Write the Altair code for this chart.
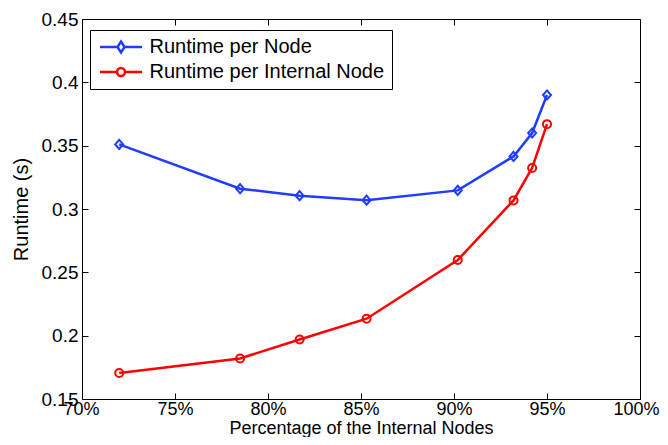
import altair as alt
import pandas as pd

# ---- data ----
pct_internal = [72.0, 78.5, 81.7, 85.3, 90.2, 93.2, 94.2, 95.0]
runtime_node = [0.351, 0.316, 0.3105, 0.307, 0.3147, 0.3415, 0.360, 0.390]
runtime_internal = [0.1705, 0.182, 0.197, 0.2134, 0.2597, 0.3068, 0.3324, 0.367]
series_names = ["Runtime per Node", "Runtime per Internal Node"]
x_ticks = [70, 75, 80, 85, 90, 95, 100]
y_ticks = [0.15, 0.2, 0.25, 0.3, 0.35, 0.4, 0.45]

rows = []
for x, a, b in zip(pct_internal, runtime_node, runtime_internal):
    rows.append({"x": x, "y": a, "series": series_names[0]})
    rows.append({"x": x, "y": b, "series": series_names[1]})
df = pd.DataFrame(rows)

BLUE = "#1f3cff"
RED = "#ff0000"
FONT = "Liberation Sans"
W, H = 558, 380

# legend symbols: line with hollow marker
PATH_A = "M-1,0L-0.167,0M0.167,0L1,0M0,-0.262L0.167,0L0,0.262L-0.167,0Z"
PATH_B = ("M-1,0L-0.19,0M0.19,0L1,0M-0.19,0A0.19,0.19,0,1,0,0.19,0"
          "A0.19,0.19,0,1,0,-0.19,0Z")
DIAMOND = "M0,-1.15L1,0L0,1.15L-1,0Z"

xscale = alt.Scale(domain=[70, 100], nice=False, zero=False)
yscale = alt.Scale(domain=[0.15, 0.45], nice=False, zero=False)

base = alt.Chart(df)

tick_common = dict(labels=False, domain=False, grid=False, title=None,
                   tickSize=6, tickColor="#000000", tickWidth=1)

# layer 1: lines, label axes, legend
lines = base.mark_line(strokeWidth=2.5).encode(
    x=alt.X("x:Q", scale=xscale,
            axis=alt.Axis(orient="bottom", values=x_ticks, ticks=False, domain=False,
                          grid=False, labelExpr="datum.value + '%'",
                          labelFlush=True, labelFlushOffset=19,
                          labelFontSize=18, labelColor="#000", labelPadding=1,
                          title="Percentage of the Internal Nodes",
                          titleFontSize=18, titleFontWeight="normal",
                          titleColor="#000", titleBaseline="alphabetic",
                          titleY=34.5)),
    y=alt.Y("y:Q", scale=yscale,
            axis=alt.Axis(orient="left", values=y_ticks, ticks=False, domain=False,
                          grid=False, labelExpr="format(datum.value, '~g')",
                          labelFlush=False,
                          labelFontSize=19, labelColor="#000", labelPadding=4,
                          title="Runtime (s)", titleFontSize=20,
                          titleFontWeight="normal", titleColor="#000",
                          titlePadding=10)),
    color=alt.Color("series:N",
                    scale=alt.Scale(domain=series_names, range=[BLUE, RED]),
                    legend=alt.Legend(
                        title=None, orient="none", legendX=8, legendY=11,
                        labelFontSize=20, labelColor="#000", labelFont=FONT,
                        labelLimit=400,
                        symbolType={"expr": "datum.value === '%s' ? '%s' : '%s'"
                                    % (series_names[0], PATH_A, PATH_B)},
                        symbolSize=1764, symbolStrokeWidth=2.5,
                        symbolFillColor="transparent",
                        clipHeight=20, rowPadding=5, padding=7,
                        symbolOffset=1.5, labelOffset=6,
                        strokeColor="#000", fillColor="#fff")),
    order="x:Q",
)

# layer 2: blue markers + inward ticks on bottom and left edges
pts_a = base.transform_filter(alt.datum.series == series_names[0]).mark_point(
    shape=DIAMOND, size=64, filled=False, strokeWidth=2, color=BLUE, opacity=1
).encode(
    x=alt.X("x:Q", scale=xscale,
            axis=alt.Axis(orient="top", offset=-H, values=x_ticks, **tick_common)),
    y=alt.Y("y:Q", scale=yscale,
            axis=alt.Axis(orient="right", offset=-W, values=y_ticks, **tick_common)),
)

# layer 3: red markers + inward ticks on top and right edges
pts_b = base.transform_filter(alt.datum.series == series_names[1]).mark_point(
    shape="circle", size=64, filled=False, strokeWidth=2, color=RED, opacity=1
).encode(
    x=alt.X("x:Q", scale=xscale,
            axis=alt.Axis(orient="bottom", offset=-H, values=x_ticks, **tick_common)),
    y=alt.Y("y:Q", scale=yscale,
            axis=alt.Axis(orient="left", offset=-W, values=y_ticks, **tick_common)),
)

chart = alt.layer(lines, pts_a, pts_b).resolve_axis(
    x="independent", y="independent"
).properties(
    width=W, height=H,
    autosize=alt.AutoSizeParams(type="none"),
    padding={"left": 74, "top": 11, "right": 20, "bottom": 38},
).configure(font=FONT).configure_view(
    stroke="#000", strokeWidth=1
).configure_axis(labelFont=FONT, titleFont=FONT)

chart.save("out.html", embed_options={"renderer": "svg", "actions": False})
